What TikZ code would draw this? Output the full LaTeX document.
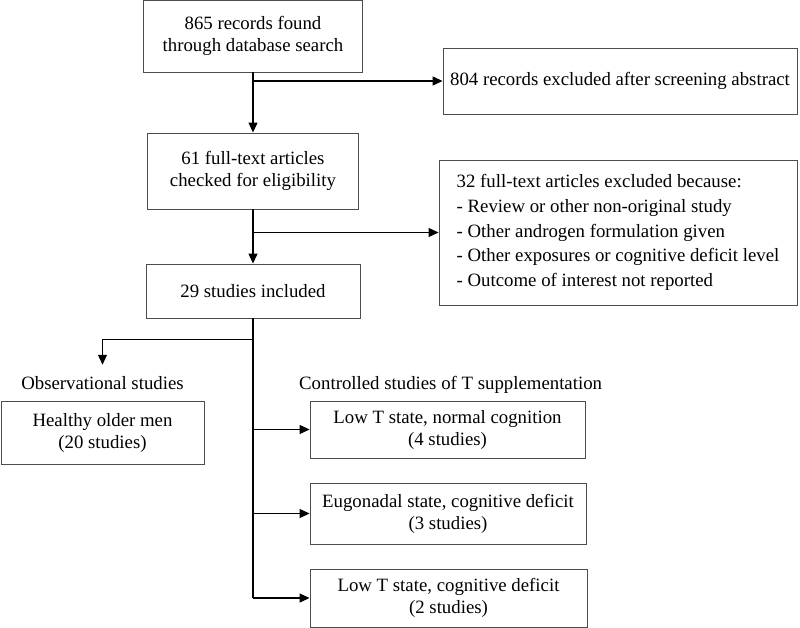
\documentclass[tikz,border=0pt]{standalone}
\usepackage{fontspec}
\setmainfont{Liberation Serif}
\usetikzlibrary{positioning,arrows.meta}

\begin{document}
\begin{tikzpicture}[x=1pt,y=-1pt,
  box/.style={draw=black!70, line width=0.9pt, align=center, inner sep=0pt,
    font=\rmfamily\fontsize{18.8}{22}\selectfont},
  caption/.style={inner sep=2pt, font=\rmfamily\fontsize{18.8}{22}\selectfont},
  arrow/.style={-{Triangle[length=10pt,width=9pt]}, line width=1.2pt},
  trunk/.style={line width=1.2pt}]

\useasboundingbox (0,0) rectangle (800,628);

% screening
\node [box, minimum width=219pt, minimum height=72pt] (found) at (253,36) {865 records found\\through database search};
\node [box, minimum width=354pt, minimum height=66pt] (excl1) at (620,81) {804 records excluded after screening abstract};
\node [box, minimum width=211pt, minimum height=76pt] (eligible) at (253,171) {61 full-text articles\\checked for eligibility};
\node [box, minimum width=358pt, minimum height=145pt, align=left, font=\rmfamily\fontsize{18.8}{24.6}\selectfont] (excl2) at (618,232.5)
  {32 full-text articles excluded because:\\- Review or other non-original study\\- Other androgen formulation given\\- Other exposures or cognitive deficit level\\- Outcome of interest not reported};
\node [box, minimum width=214pt, minimum height=54pt] (incl) at (253,291) {29 studies included};

% groups
\node [caption, anchor=base] (obs) at (102.5,389) {Observational studies};
\node [caption, anchor=base west] (ctrl) at (297,389) {Controlled studies of T supplementation};
\node [box, minimum width=203pt, minimum height=63pt] (healthy) at (102.5,432.5) {Healthy older men\\(20 studies)};
\node [box, minimum width=275pt, minimum height=57pt] (lownorm) at (447.5,429.5) {Low T state, normal cognition\\(4 studies)};
\node [box, minimum width=276pt, minimum height=61pt] (eugon) at (448,513.5) {Eugonadal state, cognitive deficit\\(3 studies)};
\node [box, minimum width=277pt, minimum height=58pt] (lowdef) at (448.5,598) {Low T state, cognitive deficit\\(2 studies)};

% connectors
\draw [arrow] (found) -- (eligible);
\draw [arrow] (found.south |- excl1.west) -- (excl1.west);
\draw [arrow] (eligible) -- (incl);
\draw [arrow] (eligible.south |- excl2.west) -- (excl2.west);
\draw [trunk] (incl.south) -- (incl.south |- lowdef.west);
\draw [arrow, shorten >=9pt] (incl.south) ++(0,21) -| (obs.north);
\draw [arrow] (incl.south |- lownorm.west) -- (lownorm.west);
\draw [arrow] (incl.south |- eugon.west) -- (eugon.west);
\draw [arrow] (incl.south |- lowdef.west) -- (lowdef.west);

\end{tikzpicture}
\end{document}
